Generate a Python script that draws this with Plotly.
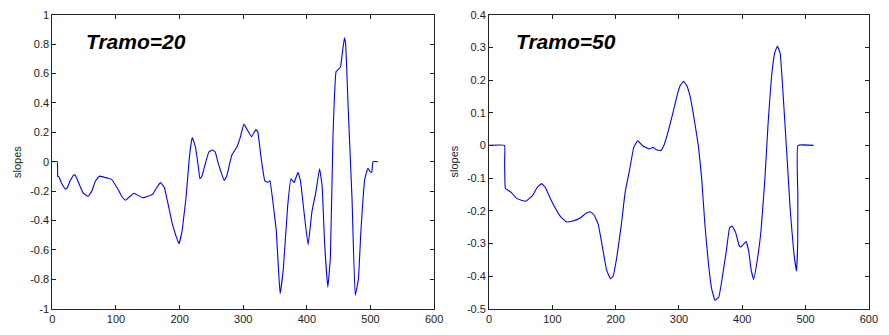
import plotly.graph_objects as go
from plotly.subplots import make_subplots

# Slope profile, window length 20
x20 = [0, 7.8, 8.5, 10, 15, 20.7, 23, 28, 33.6, 36, 42, 48, 56, 62, 68, 74, 85, 93, 103, 109, 115,
       121, 128, 135, 142, 150, 158, 165, 170, 176, 181, 185, 189, 194, 199, 204, 207, 210, 215, 218,
       220, 225, 229, 232, 235, 240, 246, 252, 256, 260, 264, 270, 274, 282, 290, 295, 301, 306,
       313, 320, 323, 328, 334, 339, 342, 346, 352, 355, 358, 363, 370, 375, 380, 386, 390, 396,
       402, 408, 414, 420, 424, 428, 433, 437, 441, 446, 450, 453, 455, 459, 461, 465, 471, 476,
       481, 485, 491, 496, 499, 502, 504, 512]
y20 = [0, 0, -0.1, -0.1, -0.15, -0.186, -0.18, -0.13, -0.09, -0.092, -0.15, -0.21, -0.236, -0.2,
       -0.13, -0.098, -0.11, -0.12, -0.186, -0.235, -0.262, -0.24, -0.215, -0.23, -0.245, -0.235,
       -0.22, -0.17, -0.142, -0.175, -0.27, -0.35, -0.43, -0.5, -0.558, -0.47, -0.36, -0.25, 0.01,
       0.12, 0.164, 0.1, -0.02, -0.116, -0.1, -0.02, 0.066, 0.08, 0.066, 0.0, -0.055, -0.127, -0.1,
       0.044, 0.1, 0.16, 0.256, 0.22, 0.17, 0.22, 0.2, 0.03, -0.13, -0.14, -0.13, -0.25, -0.47,
       -0.7, -0.897, -0.73, -0.295, -0.116, -0.142, -0.072, -0.13, -0.36, -0.565, -0.34, -0.21,
       -0.048, -0.164, -0.56, -0.853, -0.65, 0.164, 0.613, 0.63, 0.645, 0.71, 0.842, 0.8, 0.36,
       -0.25, -0.908, -0.8, -0.47, -0.12, -0.044, -0.066, -0.072, 0, 0]

# Slope profile, window length 50
x50 = [0, 24.4, 24.6, 25.2, 26, 35, 44, 58, 68.6, 76, 83, 89, 97, 105, 113, 122, 131, 144, 153,
       159.5, 166, 172.5, 180, 185.5, 191.7, 196, 202, 209, 215, 222, 228.6, 234.8, 242.6, 253,
       259, 264, 271, 276, 281.6, 289, 297, 302, 307.5, 312.7, 318, 324.7, 331, 336, 341, 346.5,
       351.7, 357, 363, 368, 375, 380, 384, 389.6, 395, 398, 402.6, 406, 410, 414, 418, 423, 429.6,
       436, 441, 446.3, 451.5, 455.6, 460, 465, 471, 476, 481.6, 485.7, 487.6, 487.8, 488.0, 512.7]
y50 = [0, 0, -0.05, -0.12, -0.132, -0.144, -0.163, -0.171, -0.154, -0.129, -0.117, -0.129,
       -0.163, -0.193, -0.218, -0.234, -0.232, -0.222, -0.208, -0.203, -0.213, -0.242, -0.321,
       -0.38, -0.408, -0.4, -0.34, -0.242, -0.144, -0.075, -0.006, 0.014, -0.001, -0.011, -0.006,
       -0.013, -0.016, -0.001, 0.033, 0.088, 0.152, 0.183, 0.196, 0.181, 0.147, 0.073, -0.006,
       -0.104, -0.242, -0.36, -0.439, -0.474, -0.464, -0.41, -0.321, -0.252, -0.247, -0.267,
       -0.306, -0.311, -0.301, -0.294, -0.321, -0.38, -0.41, -0.36, -0.262, -0.095, 0.073, 0.211,
       0.285, 0.304, 0.28, 0.142, -0.045, -0.203, -0.331, -0.385, -0.3, -0.15, 0, 0]

x_ticks = [0, 100, 200, 300, 400, 500, 600]
y20_ticks = [1, 0.8, 0.6, 0.4, 0.2, 0, -0.2, -0.4, -0.6, -0.8, -1]
y20_labels = ["1", "0.8", "0.6", "0.4", "0.2", "0", "-0.2", "-0.4", "-0.6", "-0.8", "-1"]
y50_ticks = [0.4, 0.3, 0.2, 0.1, 0, -0.1, -0.2, -0.3, -0.4, -0.5]
y50_labels = ["0.4", "0.3", "0.2", "0.1", "0", "-0.1", "-0.2", "-0.3", "-0.4", "-0.5"]

titles = ["Tramo=20", "Tramo=50"]

FONT = "Liberation Sans, Arial, sans-serif"
BLUE = "#0000ff"

fig = make_subplots(rows=1, cols=2)
line_style = dict(color=BLUE, width=1.1, shape="spline", smoothing=0.3)
fig.add_trace(go.Scatter(x=x20, y=y20, mode="lines", line=line_style), 1, 1)
fig.add_trace(go.Scatter(x=x50, y=y50, mode="lines", line=line_style), 1, 2)

axis_common = dict(
    showline=True, linecolor="#222222", linewidth=1, mirror="allticks",
    ticks="inside", ticklen=4, tickcolor="#222222", tickwidth=1,
    showgrid=False, zeroline=False,
    tickfont=dict(family=FONT, size=11, color="#222222"),
)

y_bottom, y_top = 1 - 314 / 335, 1 - 9 / 335
fig.update_xaxes(range=[0, 600], tickvals=x_ticks, ticktext=[str(v) for v in x_ticks], **axis_common)
fig.update_layout(
    xaxis=dict(domain=[50 / 889, 437 / 889]),
    xaxis2=dict(domain=[492.7 / 889, 877.7 / 889]),
    yaxis=dict(domain=[y_bottom, y_top], range=[-1, 1], tickvals=y20_ticks,
               ticktext=y20_labels, **axis_common),
    yaxis2=dict(domain=[y_bottom, y_top], range=[-0.5, 0.4], tickvals=y50_ticks,
                ticktext=y50_labels, **axis_common),
    width=889, height=335,
    margin=dict(l=0, r=0, t=0, b=0),
    paper_bgcolor="white", plot_bgcolor="white",
    showlegend=False,
)

# Panel titles inside the axes
title_font = dict(family=FONT, size=21, color="black", weight="bold", style="italic")
fig.add_annotation(x=49, y=0.818, xref="x", yref="y", text=titles[0], showarrow=False,
                   xanchor="left", yanchor="middle", font=title_font)
fig.add_annotation(x=39.5, y=0.319, xref="x2", yref="y2", text=titles[1], showarrow=False,
                   xanchor="left", yanchor="middle", font=title_font)

# Y-axis labels
y_mid = (y_bottom + y_top) / 2
for xp in (13.5 / 889, 457 / 889):
    fig.add_annotation(x=xp, y=y_mid, xref="paper", yref="paper", text="slopes",
                       showarrow=False, textangle=-90, xanchor="center", yanchor="middle",
                       font=dict(family=FONT, size=11, color="#222222"))

fig.write_html("out.html")
